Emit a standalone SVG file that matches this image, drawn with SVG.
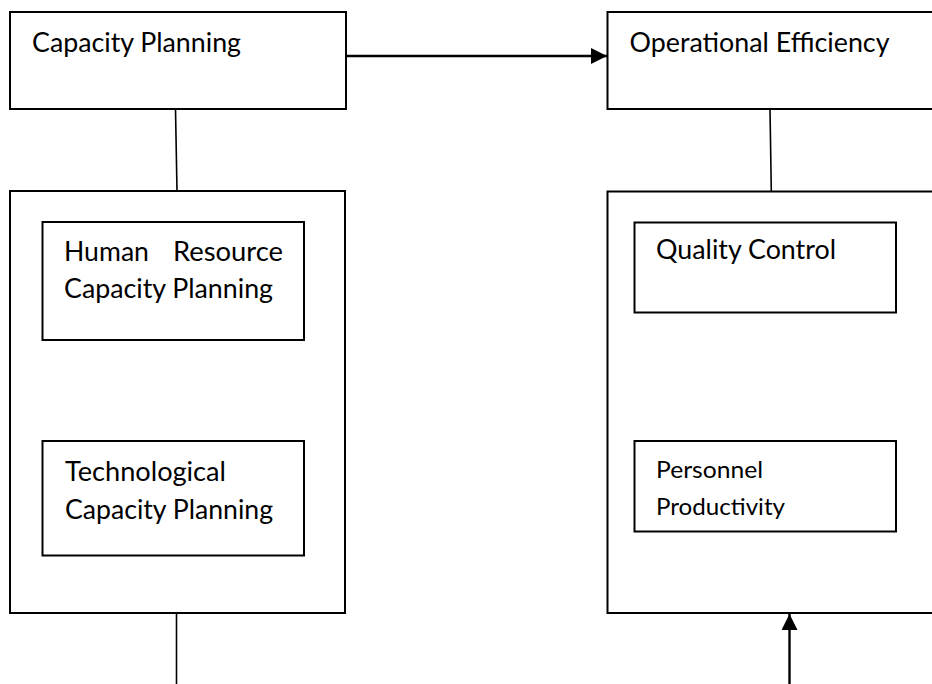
<svg xmlns="http://www.w3.org/2000/svg" width="932" height="684" viewBox="0 0 932 684">
  <style>
    .box { fill: #ffffff; stroke: #000000; stroke-width: 2; }
    .lbl { font-family: Lato, "Open Sans", "Liberation Sans", sans-serif; font-size: 26px; fill: #000000; }
    .lbl-s { font-family: Lato, "Open Sans", "Liberation Sans", sans-serif; font-size: 23px; fill: #000000; }
    .link { stroke: #000000; stroke-width: 1.6; fill: none; }
    .flow { stroke: #000000; stroke-width: 2.4; fill: none; }
  </style>
  <defs>
    <marker id="arrow" markerUnits="userSpaceOnUse" markerWidth="17" markerHeight="16" refX="16" refY="8" orient="auto">
      <path d="M0,0 L16,8 L0,16 Z" fill="#000000"/>
    </marker>
  </defs>

  <rect width="932" height="684" fill="#ffffff"/>

  <!-- connectors -->
  <g id="connectors">
    <line class="flow" x1="346" y1="56" x2="607" y2="56" marker-end="url(#arrow)"/>
    <line class="link" x1="175.5" y1="109" x2="177" y2="191"/>
    <line class="link" x1="770" y1="109" x2="771.3" y2="191"/>
    <line class="link" x1="176.5" y1="613" x2="176.5" y2="684"/>
    <line class="flow" x1="789.5" y1="684" x2="789.5" y2="614" marker-end="url(#arrow)"/>
  </g>

  <!-- Capacity Planning -->
  <g id="capacity-planning">
    <rect class="box" x="10" y="12" width="336" height="97"/>
    <text class="lbl" x="32" y="52" textLength="209" lengthAdjust="spacingAndGlyphs">Capacity Planning</text>
  </g>

  <!-- Operational Efficiency -->
  <g id="operational-efficiency">
    <rect class="box" x="607.5" y="12" width="340" height="97"/>
    <text class="lbl" x="629.5" y="52" textLength="260" lengthAdjust="spacingAndGlyphs">Operational Efficiency</text>
  </g>

  <!-- Capacity planning group -->
  <g id="planning-group">
    <rect class="box" x="10" y="191" width="335" height="422"/>
  </g>

  <g id="hr-capacity">
    <rect class="box" x="42.5" y="222" width="261.5" height="118"/>
    <text class="lbl"><tspan x="64" y="261" textLength="85" lengthAdjust="spacingAndGlyphs">Human</tspan><tspan x="173" y="261" textLength="110" lengthAdjust="spacingAndGlyphs">Resource</tspan></text>
    <text class="lbl" x="64" y="298" textLength="209" lengthAdjust="spacingAndGlyphs">Capacity Planning</text>
  </g>

  <g id="tech-capacity">
    <rect class="box" x="42.5" y="441" width="261.5" height="114.5"/>
    <text class="lbl" x="65" y="481" textLength="161" lengthAdjust="spacingAndGlyphs">Technological</text>
    <text class="lbl" x="65" y="519" textLength="208" lengthAdjust="spacingAndGlyphs">Capacity Planning</text>
  </g>

  <!-- Operational efficiency group -->
  <g id="efficiency-group">
    <rect class="box" x="607.5" y="191.5" width="340" height="421.5"/>
  </g>

  <g id="quality-control">
    <rect class="box" x="634.5" y="222.5" width="261.5" height="90"/>
    <text class="lbl" x="656" y="259" textLength="180" lengthAdjust="spacingAndGlyphs">Quality Control</text>
  </g>

  <g id="personnel-productivity">
    <rect class="box" x="634.5" y="441" width="261.5" height="90.5"/>
    <text class="lbl-s" x="656" y="478" textLength="107" lengthAdjust="spacingAndGlyphs">Personnel</text>
    <text class="lbl-s" x="656" y="515" textLength="129" lengthAdjust="spacingAndGlyphs">Productivity</text>
  </g>
</svg>
